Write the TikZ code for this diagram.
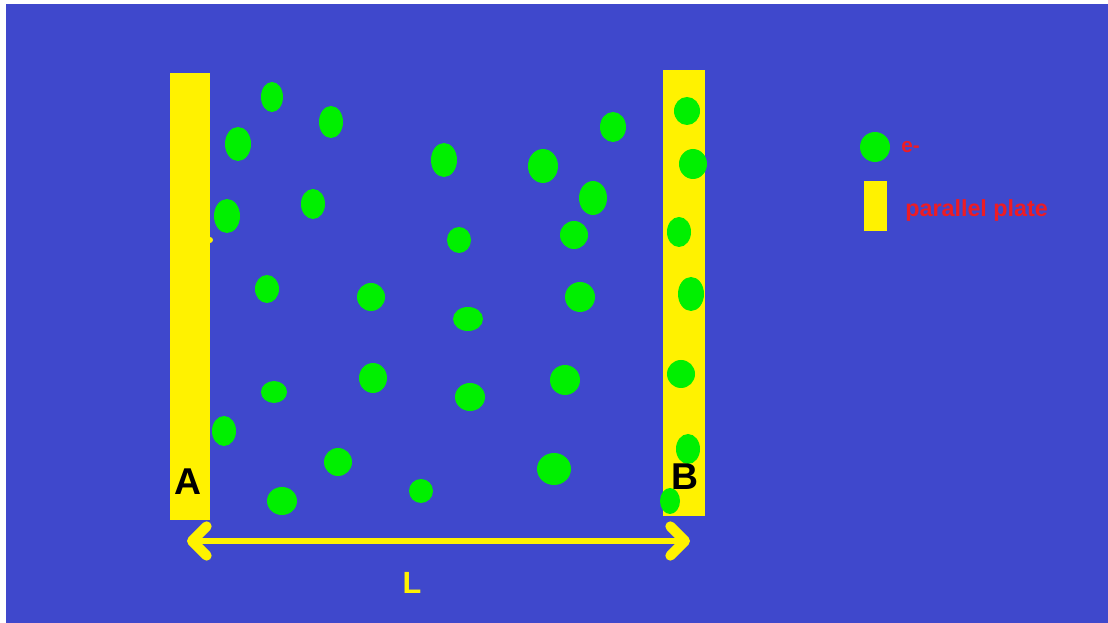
\documentclass[tikz,border=0pt]{standalone}
\usepackage{fontspec}
\setmainfont{Liberation Sans}
\usepackage{tikz}
\usetikzlibrary{arrows.meta,positioning}
\definecolor{bgblue}{HTML}{3F48CC}
\definecolor{plateyel}{HTML}{FFF200}
\definecolor{elecgreen}{HTML}{00F000}
\definecolor{legred}{HTML}{ED1C24}
\tikzset{
  plate/.style={fill=plateyel,inner sep=0pt},
  elec/.style={fill=elecgreen},
  platelab/.style={font=\bfseries\fontsize{28}{28}\selectfont,text=black,inner sep=0pt},
  lenlab/.style={font=\bfseries\fontsize{23}{23}\selectfont,text=plateyel,inner sep=0pt},
  leglab/.style={font=\bfseries\fontsize{17.5}{17.5}\selectfont,text=legred,inner sep=0pt},
  lenarrow/.style={draw=plateyel,line width=4.5pt,>={Straight Barb[length=11pt,width=22pt,line width=7.5pt,round]},<->},
}
\begin{document}
\begin{tikzpicture}[x=0.75pt,y=-0.75pt]
  \useasboundingbox (0,0) rectangle (1108,623);
  \fill[bgblue] (6,4) rectangle (1108,623);
  % the two plates
  \node[plate,minimum width=30pt,minimum height=335.25pt] (plateA) at (190,296.5) {};
  \node[plate,minimum width=31.5pt,minimum height=334.5pt] (plateB) at (684,293) {};
  \fill[plateyel] (210,240) circle (3);
  % electrons
  \foreach \ex/\ey/\erx/\ery in {272/97/11/15, 331/122/12/16, 238/144/13/17, 227/216/13/17, 313/204/12/15,
      444/160/13/17, 613/127/13/15, 543/166/15/17, 593/198/14/17, 459/240/12/13, 574/235/14/14,
      687/111/13/14, 693/164/14/15, 679/232/12/15, 267/289/12/14, 371/297/14/14, 274/392/13/11,
      373/378/14/15, 224/431/12/15, 338/462/14/14, 282/501/15/14, 421/491/12/12, 468/319/15/12,
      580/297/15/15, 470/397/15/14, 565/380/15/15, 554/469/17/16, 691/294/13/17, 681/374/14/14,
      688/449/12/15, 670/501/10/13}
    {\fill[elec] (\ex,\ey) ellipse [x radius=\erx, y radius=\ery];}
  \node[platelab] (labA) at (188,482) {A};
  \node[platelab] (labB) at (685,477) {B};
  % distance between plates
  \coordinate (arrL) at (187,541);
  \coordinate (arrR) at (690,541);
  \draw[lenarrow] (arrL) -- (arrR);
  \node[lenlab] (lenL) at (412,583) {L};
  % legend
  \node[circle,elec,inner sep=0pt,minimum size=22.5pt] (legElec) at (875,147) {};
  \node[plate,minimum width=17.25pt,minimum height=37.5pt] (legPlate) at (875.5,206) {};
  \node[leglab,font=\bfseries\fontsize{15.5}{15.5}\selectfont,anchor=base west] (legElecTxt) at (901,153) {e-};
  \node[leglab,anchor=base west] (legPlateTxt) at (905,217) {parallel plate};
\end{tikzpicture}
\end{document}
